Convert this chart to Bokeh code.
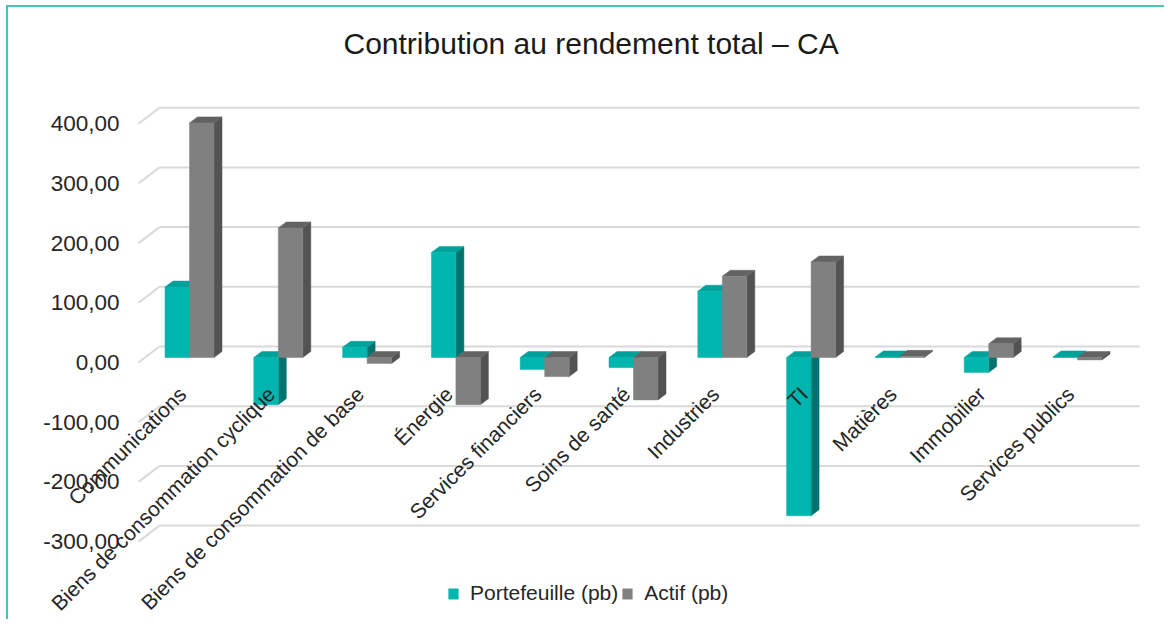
import math
from bokeh.plotting import figure
from bokeh.models import Range1d, LinearAxis, FixedTicker, Legend, LegendItem
from bokeh.embed import file_html
from bokeh.resources import INLINE

# ---------------- data ----------------
categories = ["Communications", "Biens de consommation cyclique",
              "Biens de consommation de base", "Énergie", "Services financiers",
              "Soins de santé", "Industries", "TI", "Matières", "Immobilier",
              "Services publics"]
portefeuille = [118, -79, 17, 176, -20, -17, 111, -265, 1, -25, 1]
actif = [393, 217, -10, -79, -32, -71, 136, 160, 2, 23, -4]
y_ticks = [-300, -200, -100, 0, 100, 200, 300, 400]
series_names = ["Portefeuille (pb)", "Actif (pb)"]
title_text = "Contribution au rendement total – CA"

# ---------------- layout (page pixels -> canvas pixels) ----------------
OX, OY = 8, 7                            # canvas origin on the page (after border)
W, H = 1158, 614
FL, FR, FT, FB = 0, 1140, 60, 611        # frame edges (canvas)
AXIS_X = 119 - OX + 1                    # value-axis location (labels end at 119)
ZERO_Y = 357 - OY                        # bar plane zero line
PX_UNIT = 0.597                          # pixels per unit (pb)
X0 = 189 - OX                            # first category centre
PX_CAT = 88.8                            # pixels per category
LABEL_SHIFT = -7 / PX_CAT                # category labels sit slightly left of centre

x_start = (FL - X0) / PX_CAT
x_end = (FR - X0) / PX_CAT
y_start = (ZERO_Y - FB) / PX_UNIT
y_end = (ZERO_Y - FT) / PX_UNIT
front_shift = 5 / PX_UNIT                # front plane is 5px below bar plane
back_shift = 11 / PX_UNIT                # back wall is 11px above bar plane

FONT = "Liberation Sans"
TXT = "#262626"

p = figure(width=W, height=H, output_backend="svg", toolbar_location=None,
           x_range=Range1d(x_start, x_end), y_range=Range1d(y_start, y_end),
           x_axis_location=None, y_axis_location=None,
           min_border_left=FL, min_border_right=W - FR,
           min_border_top=FT, min_border_bottom=H - FB,
           background_fill_color="white", border_fill_color="white",
           outline_line_color=None)
p.styles = {"border-left": "2px solid #4cc2bc", "border-top": "2px solid #4cc2bc",
            "margin-left": f"{OX - 2}px", "margin-top": f"{OY - 2}px"}
p.extra_y_ranges = {"front": Range1d(y_start + front_shift, y_end + front_shift)}

for g in p.grid:
    g.visible = False

# ---------------- back wall gridlines + side wall diagonals ----------------
gx0 = (159 - OX - X0) / PX_CAT
gx1 = (1139 - OX - X0) / PX_CAT
fx = (138 - OX - X0) / PX_CAT
grid_y = [v + back_shift for v in y_ticks]
p.segment(x0=[gx0] * len(y_ticks), x1=[gx1] * len(y_ticks), y0=grid_y, y1=grid_y,
          line_color="#d9d9d9", line_width=2)
p.segment(x0=[fx] * len(y_ticks), x1=[gx0] * len(y_ticks),
          y0=[v - front_shift for v in y_ticks], y1=grid_y,
          line_color="#d9d9d9", line_width=2)

# ---------------- pseudo-3D bars ----------------
bw = 24.5 / PX_CAT
dx = 8 / PX_CAT
dy = 6 / PX_UNIT

styles = [
    dict(front="#00b5ad", side="#00736e", top="#00a19a", off=-bw),
    dict(front="#808080", side="#535353", top="#636363", off=0.0),
]
front_renderers = []
for vals, st in zip([portefeuille, actif], styles):
    left = [i + st["off"] for i in range(len(vals))]
    right = [l + bw for l in left]
    lo = [min(0, v) for v in vals]
    hi = [max(0, v) for v in vals]
    side_xs = [[r, r + dx, r + dx, r] for r in right]
    side_ys = [[a, a + dy, b + dy, b] for a, b in zip(lo, hi)]
    top_xs = [[l, l + dx, r + dx, r] for l, r in zip(left, right)]
    top_ys = [[b, b + dy, b + dy, b] for b in hi]
    p.patches(side_xs, side_ys, fill_color=st["side"], line_color=st["side"], line_width=0.5)
    p.patches(top_xs, top_ys, fill_color=st["top"], line_color=st["top"], line_width=0.5)
    r = p.quad(left=left, right=right, bottom=lo, top=hi,
               fill_color=st["front"], line_color=st["front"], line_width=0.5)
    front_renderers.append(r)

# ---------------- axes ----------------
yaxis = LinearAxis(y_range_name="front", ticker=FixedTicker(ticks=y_ticks),
                   major_label_overrides={v: f"{v:.2f}".replace(".", ",") for v in y_ticks},
                   fixed_location=(AXIS_X - X0) / PX_CAT)
yaxis.axis_line_color = None
yaxis.major_tick_line_color = None
yaxis.minor_tick_line_color = None
yaxis.major_tick_out = 0
yaxis.major_label_standoff = 1
yaxis.major_label_text_font = FONT
yaxis.major_label_text_font_size = "22.5px"
yaxis.major_label_text_color = TXT
p.add_layout(yaxis, "left")

cat_ticks = [i + LABEL_SHIFT for i in range(len(categories))]
xaxis = LinearAxis(ticker=FixedTicker(ticks=cat_ticks),
                   major_label_overrides={t: c for t, c in zip(cat_ticks, categories)},
                   fixed_location=0)
xaxis.axis_line_color = None
xaxis.major_tick_line_color = None
xaxis.minor_tick_line_color = None
xaxis.major_tick_out = 0
xaxis.major_label_standoff = 33
xaxis.major_label_orientation = math.pi / 4
xaxis.major_label_text_font = FONT
xaxis.major_label_text_font_size = "21px"
xaxis.major_label_text_color = TXT
p.add_layout(xaxis, "below")

# ---------------- legend ----------------
legend = Legend(items=[LegendItem(label=n, renderers=[r]) for n, r in zip(series_names, front_renderers)],
                orientation="horizontal", location=(447 - OX - FL, FB - (605 - OY)),
                label_text_font=FONT, label_text_font_size="21px", label_text_color=TXT,
                glyph_width=12, glyph_height=13, label_standoff=11, spacing=3,
                padding=0, margin=0, border_line_color=None, background_fill_alpha=0)
p.add_layout(legend, "center")

# ---------------- title ----------------
p.title.text = title_text
p.title.align = "left"
p.title.offset = 343 - OX - FL
p.title.text_font = FONT
p.title.text_font_size = "30px"
p.title.text_font_style = "normal"
p.title.text_color = "#1a1a1a"
p.title.standoff = 16

open("out.html", "w").write(file_html(p, INLINE))
